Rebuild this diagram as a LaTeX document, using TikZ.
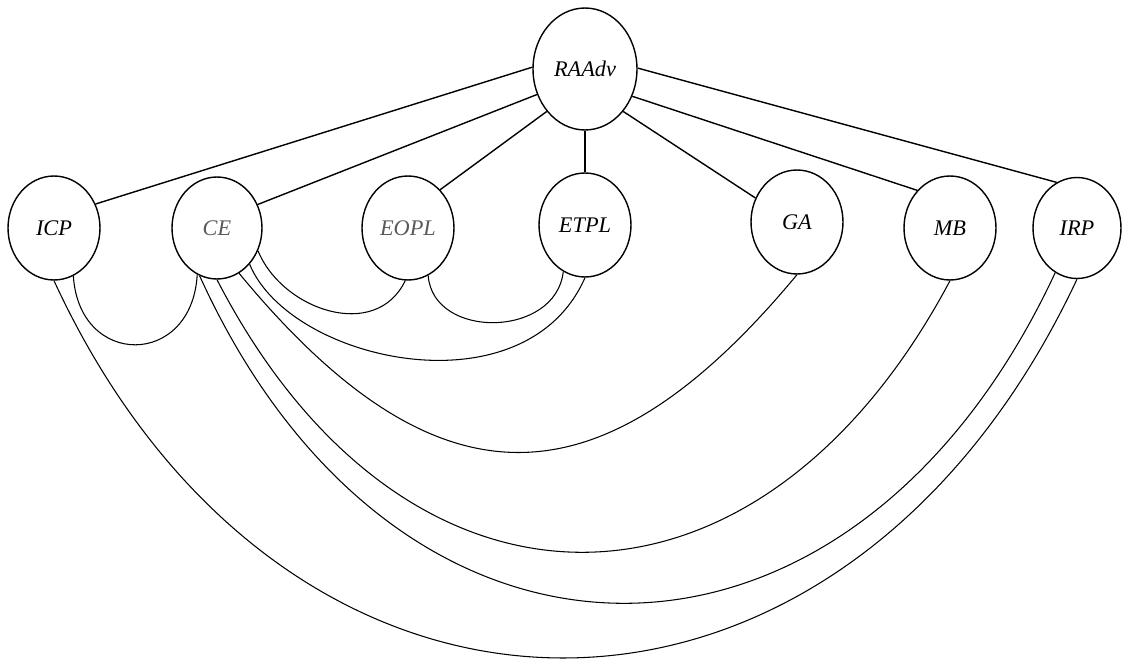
\documentclass[tikz,border=0pt]{standalone}
\usepackage{fontspec}
\setmainfont{Liberation Serif}
\usetikzlibrary{shapes.geometric}

\tikzset{
  concept/.style={draw, ellipse, line width=0.8pt, inner sep=0pt,
    minimum width=1.84cm, minimum height=2.08cm,
    font=\fontsize{12.7}{14}\selectfont\itshape},
  faint/.style={text=black!65},
  spoke/.style={line width=0.8pt},
  link/.style={line width=0.6pt},
}

\begin{document}
\begin{tikzpicture}[x=0.02cm, y=-0.02cm]
  \useasboundingbox (0,0) rectangle (1123,662);

  % root and the seven concepts below it
  \node[concept, minimum width=2.08cm, minimum height=2.44cm] (RAAdv) at (585,69) {RAAdv};
  \node[concept] (ICP)  at (54,228)  {ICP};
  \node[concept, faint, minimum width=1.80cm, minimum height=2.04cm] (CE) at (217,228) {CE};
  \node[concept, faint] (EOPL) at (408,228) {EOPL};
  \node[concept] (ETPL) at (585,225) {ETPL};
  \node[concept] (GA)   at (797,222) {GA};
  \node[concept] (MB)   at (950,228) {MB};
  \node[concept, minimum width=1.76cm, minimum height=2.02cm] (IRP) at (1077,228) {IRP};

  % spokes from the root
  \draw[spoke] (RAAdv.178) -- (ICP.30);
  \draw[spoke] (RAAdv.208) -- (CE.30);
  \draw[spoke] (RAAdv.228) -- (EOPL.50);
  \draw[spoke] (RAAdv.south) -- (ETPL.north);
  \draw[spoke] (RAAdv.312) -- (GA.150);
  \draw[spoke] (RAAdv.330) -- (MB.131);
  \draw[spoke] (RAAdv.1) -- (IRP.114);

  % links between the concepts, hanging below them
  \draw[link] (ICP.292) .. controls (79,368) and (192,368) .. (CE.247);
  \draw[link] (CE.331) .. controls (282,310) and (376,342) .. (EOPL.267);
  \draw[link] (EOPL.293) .. controls (433,340) and (556,338) .. (ETPL.245);
  \draw[link] (CE.312) .. controls (290,362) and (525,414) .. (ETPL.south);
  \draw[link] (CE.296) .. controls (436,512) and (600,512) .. (GA.south);
  \draw[link] (CE.south) .. controls (404,642) and (757,644) .. (MB.south);
  \draw[link] (CE.250) .. controls (398,713) and (850,713) .. (IRP.244);
  \draw[link] (ICP.south) .. controls (286,784) and (840,784) .. (IRP.south);
\end{tikzpicture}
\end{document}
